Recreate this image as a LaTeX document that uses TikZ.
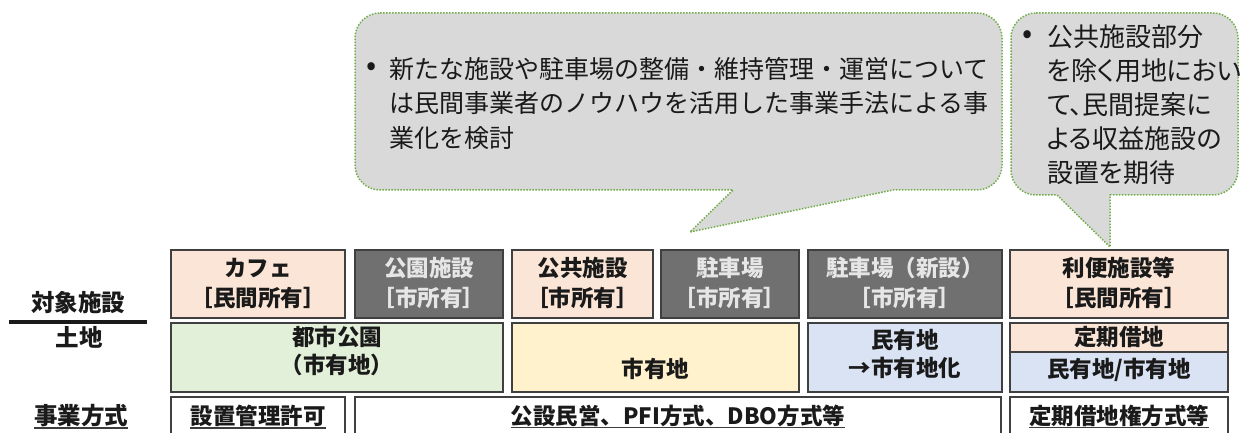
\documentclass[tikz,border=0pt]{standalone}
\usepackage{fontspec}
\newfontfamily\jp{Noto Sans CJK JP}
\newfontfamily\jpp[RawFeature=+palt]{Noto Sans CJK JP}
\definecolor{pinkf}{HTML}{FBE5D6}
\definecolor{greenf}{HTML}{E2F0D9}
\definecolor{yellowf}{HTML}{FFF2CC}
\definecolor{bluef}{HTML}{DAE3F3}
\definecolor{grayf}{HTML}{707070}
\definecolor{edge}{HTML}{404040}
\definecolor{bubf}{HTML}{D9D9D9}
\definecolor{dotg}{HTML}{70AD47}
\definecolor{ink}{HTML}{1A1A1A}
\definecolor{lite}{HTML}{E6E6E6}
\begin{document}
\begin{tikzpicture}[x=1pt,y=1pt,
  cell/.style={draw=edge,line width=1.3pt,inner sep=0pt,outer sep=0pt,anchor=south west},
  btxt/.style={font=\jp\fontsize{25pt}{34pt}\selectfont,text=ink,inner sep=0pt,anchor=base west},
  bbtxt/.style={font=\jpp\fontsize{26pt}{34pt}\selectfont,text=ink,inner sep=0pt,anchor=base west},
  dot/.style={font=\jp\fontsize{30pt}{30pt}\selectfont,text=ink,inner sep=0pt},
  ctxt/.style={font=\jp\bfseries\fontsize{22.5pt}{30pt}\selectfont,text=ink,inner sep=0pt},
  gtxt/.style={ctxt,text=lite},
  ltxt/.style={font=\jp\bfseries\fontsize{23.5pt}{30pt}\selectfont,text=ink,inner sep=0pt},
  uline/.style={draw=ink!85,line width=1.8pt},
  bubble/.style={fill=bubf,draw=dotg,line width=1.5pt,dash pattern=on 1.5pt off 1.5pt}]
\useasboundingbox (0,0) rectangle (1241,433);
\clip (0,0) rectangle (1241,433);

% speech bubbles
\draw[bubble] (380,420) -- (977,420) arc[start angle=90,end angle=0,radius=25]
  -- (1002,268) arc[start angle=0,end angle=-90,radius=25]
  -- (893,243) -- (690,201) -- (733,243)
  -- (380,243) arc[start angle=270,end angle=180,radius=25]
  -- (355,395) arc[start angle=180,end angle=90,radius=25] -- cycle;
\draw[bubble] (1036,420) -- (1213,420) arc[start angle=90,end angle=0,radius=25]
  -- (1238,263) arc[start angle=0,end angle=-90,radius=25]
  -- (1110,238) -- (1110,186) -- (1057,238)
  -- (1036,238) arc[start angle=270,end angle=180,radius=25]
  -- (1011,395) arc[start angle=180,end angle=90,radius=25] -- cycle;

\node[dot] (d1) at (372,364) {•};
\node[btxt] (b1a) at (389,354.5) {新たな施設や駐車場の整備・維持管理・運営について};
\node[btxt] (b1b) at (389,320) {は民間事業者のノウハウを活用した事業手法による事};
\node[btxt] (b1c) at (389,285.5) {業化を検討};

\node[dot] (d2) at (1028,396) {•};
\node[bbtxt] (b2a) at (1047,386) {公共施設部分};
\node[bbtxt] (b2b) at (1047,352) {を除く用地におい};
\node[bbtxt] (b2c) at (1047,318) {て、民間提案に};
\node[bbtxt] (b2d) at (1047,284) {よる収益施設の};
\node[bbtxt] (b2e) at (1047,250) {設置を期待};

% row 1 : facilities
\node[cell,fill=pinkf,minimum width=174pt,minimum height=68pt] (cafe) at (171,115) {};
\node[cell,fill=grayf,minimum width=148pt,minimum height=68pt] (park) at (355,115) {};
\node[cell,fill=pinkf,minimum width=141pt,minimum height=68pt] (pub) at (512,115) {};
\node[cell,fill=grayf,minimum width=138pt,minimum height=68pt] (pk1) at (661,115) {};
\node[cell,fill=grayf,minimum width=194pt,minimum height=68pt] (pk2) at (808,115) {};
\node[cell,fill=pinkf,minimum width=218pt,minimum height=68pt] (conv) at (1010,115) {};

% row 2 : land
\node[cell,fill=greenf,minimum width=332pt,minimum height=69pt] (land1) at (171,41) {};
\node[cell,fill=yellowf,minimum width=287pt,minimum height=69pt] (land2) at (512,41) {};
\node[cell,fill=bluef,minimum width=194pt,minimum height=69pt] (land3) at (808,41) {};
\node[cell,fill=bluef,minimum width=218pt,minimum height=40pt] (land4) at (1010,41) {};
\node[cell,fill=pinkf,minimum width=218pt,minimum height=29pt] (lease) at (1010,81) {};

% row 3 : business method
\node[cell,fill=white,minimum width=174pt,minimum height=46pt] (m1) at (171,-10) {};
\node[cell,fill=white,minimum width=646pt,minimum height=46pt] (m2) at (355,-10) {};
\node[cell,fill=white,minimum width=218pt,minimum height=46pt] (m3) at (1010,-10) {};

% texts row 1
\node[ctxt] (cafeA) at (258,165) {カフェ};
\node[ctxt] (cafeB) at (258,135) {［民間所有］};
\node[gtxt] (parkA) at (429,165) {公園施設};
\node[gtxt] (parkB) at (429,135) {［市所有］};
\node[ctxt] (pubA) at (582.5,165) {公共施設};
\node[ctxt] (pubB) at (582.5,135) {［市所有］};
\node[gtxt] (pk1A) at (730,165) {駐車場};
\node[gtxt] (pk1B) at (730,135) {［市所有］};
\node[gtxt] (pk2A) at (905,165) {駐車場（新設）};
\node[gtxt] (pk2B) at (905,135) {［市所有］};
\node[ctxt] (convA) at (1119,165) {利便施設等};
\node[ctxt] (convB) at (1119,135) {［民間所有］};

% texts row 2
\node[ctxt] (l1A) at (337,96) {都市公園};
\node[ctxt] (l1B) at (337,68) {（市有地）};
\node[ctxt] (l2A) at (655.5,64) {市有地};
\node[ctxt] (l3A) at (905,93) {民有地};
\node[ctxt] (l3B) at (905,65) {→市有地化};
\node[ctxt] (leaseA) at (1119,96) {定期借地};
\node[ctxt] (l4A) at (1119,63) {民有地/市有地};

% texts row 3
\node[ctxt] (m1t) at (258,17) {設置管理許可};
\node[ctxt] (m2t) at (678,17) {公設民営、PFI方式、DBO方式等};
\node[ctxt] (m3t) at (1119,17) {定期借地権方式等};
\draw[uline] ([yshift=-3pt]m1t.base west) -- ([yshift=-3pt]m1t.base east);
\draw[uline] ([yshift=-3pt]m2t.base west) -- ([yshift=-3pt]m2t.base east);
\draw[uline] ([yshift=-3pt]m3t.base west) -- ([yshift=-3pt]m3t.base east);

% left labels
\node[ltxt] (lab1) at (78,130) {対象施設};
\coordinate (sepL) at (9,111);
\coordinate (sepR) at (147,111);
\draw[ink,line width=3.5pt] (sepL) -- (sepR);
\node[ltxt] (lab2) at (79,96) {土地};
\node[ltxt] (lab3) at (81,17) {事業方式};
\draw[uline] ([yshift=-3pt]lab3.base west) -- ([yshift=-3pt]lab3.base east);
\end{tikzpicture}
\end{document}
